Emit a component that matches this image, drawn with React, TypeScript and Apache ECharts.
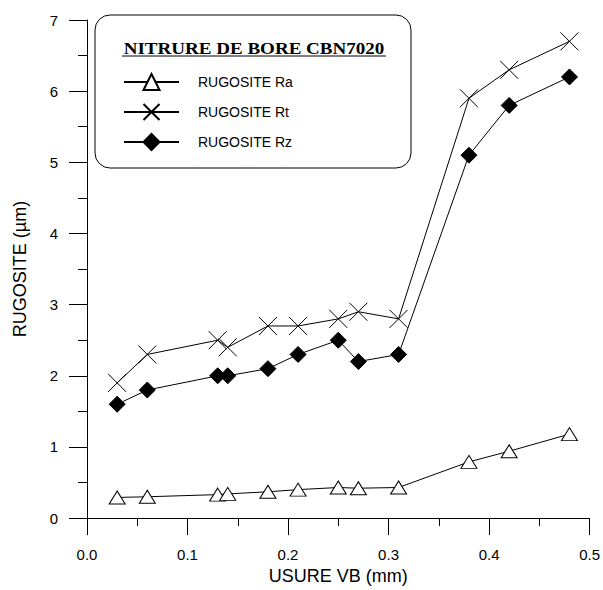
import React, { useEffect, useRef } from "react";
import * as echarts from "echarts";

const usure = [0.03, 0.06, 0.13, 0.14, 0.18, 0.21, 0.25, 0.27, 0.31, 0.38, 0.42, 0.48];
const rugRa = [0.29, 0.3, 0.33, 0.34, 0.37, 0.4, 0.43, 0.42, 0.43, 0.79, 0.94, 1.18];
const rugRt = [1.9, 2.3, 2.5, 2.4, 2.7, 2.7, 2.8, 2.9, 2.8, 5.9, 6.3, 6.7];
const rugRz = [1.6, 1.8, 2.0, 2.0, 2.1, 2.3, 2.5, 2.2, 2.3, 5.1, 5.8, 6.2];
const seriesNames = ["RUGOSITE Ra", "RUGOSITE Rt", "RUGOSITE Rz"];
const legendTitle = "NITRURE DE BORE CBN7020";
const xTitle = "USURE VB (mm)";
const yTitle = "RUGOSITE (\u00b5m)";

const SANS = "Arial, 'Liberation Sans', sans-serif";

function pairs(ys: number[]) {
  return usure.map((x, i) => [x, ys[i]]);
}

export default function App() {
  const ref = useRef<HTMLDivElement>(null);
  useEffect(() => {
    if (!ref.current) return;
    const chart = echarts.init(ref.current, undefined, { renderer: "svg" });
    const line = { color: "#000", width: 1 };
    chart.setOption({
      animation: false,
      backgroundColor: "#fff",
      grid: { left: 87, right: 12, top: 20, bottom: 66 },
      xAxis: {
        type: "value",
        min: 0,
        max: 0.5,
        interval: 0.1,
        name: xTitle,
        nameLocation: "middle",
        nameGap: 45,
        nameTextStyle: { fontFamily: SANS, fontSize: 18, color: "#000" },
        axisLine: { show: true, lineStyle: { color: "#000", width: 1 } },
        axisTick: { show: true, inside: false, length: 17, lineStyle: { color: "#000" } },
        minorTick: { show: true, splitNumber: 2, length: 8, lineStyle: { color: "#000" } },
        splitLine: { show: false },
        axisLabel: {
          fontFamily: SANS,
          fontSize: 15,
          color: "#000",
          margin: 29,
          formatter: (v: number) => v.toFixed(1),
        },
      },
      yAxis: {
        type: "value",
        min: 0,
        max: 7,
        interval: 1,
        name: yTitle,
        nameLocation: "middle",
        nameGap: 58,
        nameTextStyle: { fontFamily: SANS, fontSize: 18, color: "#000" },
        axisLine: { show: true, lineStyle: { color: "#000", width: 1 } },
        axisTick: { show: true, inside: false, length: 18, lineStyle: { color: "#000" } },
        minorTick: { show: true, splitNumber: 2, length: 9, lineStyle: { color: "#000" } },
        splitLine: { show: false },
        axisLabel: { fontFamily: SANS, fontSize: 15, color: "#000", margin: 29 },
      },
      legend: {
        show: true,
        orient: "vertical",
        left: 123,
        top: 73,
        padding: 0,
        itemWidth: 55,
        itemHeight: 20,
        itemGap: 12,
        selectedMode: false,
        data: seriesNames,
        textStyle: { fontFamily: SANS, fontSize: 14, color: "#000", padding: [0, 0, 0, 14] },
        z: 5,
      },
      graphic: [
        {
          type: "rect",
          z: 1,
          shape: { x: 95, y: 15, width: 316, height: 153, r: 15 },
          style: { fill: "#fff", stroke: "#000", lineWidth: 1 },
        },
        {
          type: "text",
          z: 2,
          x: 254,
          y: 49,
          scaleX: 1.19,
          style: {
            text: legendTitle,
            font: "bold 16px 'Liberation Serif', 'Times New Roman', serif",
            fill: "#000",
            align: "center",
            verticalAlign: "middle",
          },
        },
        {
          type: "line",
          z: 2,
          shape: { x1: 122, y1: 56, x2: 386, y2: 56 },
          style: { stroke: "#000", lineWidth: 1 },
        },
      ],
      series: [
        {
          name: seriesNames[0],
          type: "line",
          data: pairs(rugRa),
          symbol: "triangle",
          symbolSize: [16, 13],
          lineStyle: line,
          itemStyle: { color: "#fff", borderColor: "#000", borderWidth: 1 },
          z: 3,
        },
        {
          name: seriesNames[1],
          type: "line",
          data: pairs(rugRt),
          symbol: "path://M0,0L18,18M18,0L0,18",
          symbolSize: 18,
          lineStyle: line,
          itemStyle: { color: "rgba(0,0,0,0)", borderColor: "#000", borderWidth: 1 },
          z: 3,
        },
        {
          name: seriesNames[2],
          type: "line",
          data: pairs(rugRz),
          symbol: "diamond",
          symbolSize: 16,
          lineStyle: line,
          itemStyle: { color: "#000", borderColor: "#000", borderWidth: 1 },
          z: 3,
        },
      ],
    });
    return () => chart.dispose();
  }, []);
  return (
    <div
      ref={ref}
      style={{ position: "fixed", left: 0, top: 0, width: 603, height: 590, background: "#fff" }}
    />
  );
}
